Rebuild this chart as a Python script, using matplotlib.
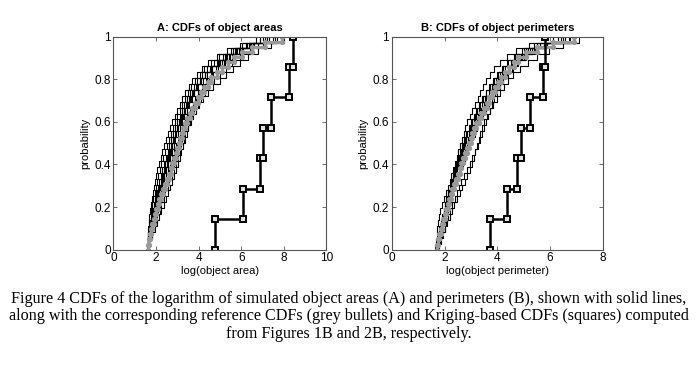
import numpy as np
import matplotlib
matplotlib.use("Agg")
import matplotlib.pyplot as plt

# ---- data ----
# Panel A: log(object area), simulated samples
sim_area = [
    [1.60, 1.60, 1.61, 1.63, 1.66, 1.69, 1.72, 1.76, 1.80, 1.85, 1.90, 1.95, 2.00, 2.05, 2.13, 2.21, 2.29, 2.38,
     2.47, 2.56, 2.66, 2.76, 2.87, 2.99, 3.11, 3.24, 3.38, 3.53, 3.70, 3.90, 4.15, 4.45, 4.85, 5.35, 5.95, 6.70],
    [1.60, 1.62, 1.63, 1.66, 1.68, 1.74, 1.77, 1.83, 1.87, 1.94, 1.99, 2.06, 2.11, 2.19, 2.25, 2.34, 2.41, 2.51,
     2.59, 2.69, 2.78, 2.88, 2.98, 3.10, 3.21, 3.36, 3.49, 3.66, 3.82, 4.04, 4.27, 4.60, 4.96, 5.50, 6.05, 6.90],
    [1.60, 1.60, 1.62, 1.68, 1.74, 1.80, 1.86, 1.92, 1.99, 2.06, 2.14, 2.22, 2.29, 2.36, 2.44, 2.52, 2.61, 2.70,
     2.79, 2.88, 2.98, 3.08, 3.19, 3.30, 3.42, 3.55, 3.70, 3.86, 4.05, 4.28, 4.55, 4.88, 5.30, 5.80, 6.40, 7.20],
    [1.61, 1.66, 1.72, 1.79, 1.86, 1.94, 2.02, 2.10, 2.19, 2.28, 2.36, 2.45, 2.54, 2.63, 2.72, 2.81, 2.90, 2.99,
     3.08, 3.17, 3.27, 3.38, 3.49, 3.60, 3.72, 3.85, 3.99, 4.15, 4.34, 4.56, 4.80, 5.10, 5.48, 5.95, 6.55, 7.50],
    [1.60, 1.63, 1.66, 1.71, 1.78, 1.83, 1.90, 1.96, 2.05, 2.11, 2.17, 2.27, 2.33, 2.40, 2.49, 2.55, 2.66, 2.74,
     2.81, 2.93, 3.00, 3.12, 3.20, 3.31, 3.46, 3.58, 3.72, 3.90, 4.08, 4.30, 4.62, 4.95, 5.35, 5.70, 6.20, 6.90],
    [1.62, 1.68, 1.75, 1.83, 1.91, 1.99, 2.08, 2.17, 2.26, 2.35, 2.44, 2.53, 2.62, 2.72, 2.82, 2.92, 3.02, 3.12,
     3.22, 3.32, 3.42, 3.53, 3.64, 3.75, 3.87, 4.00, 4.14, 4.30, 4.48, 4.68, 4.92, 5.22, 5.58, 6.02, 6.60, 7.70],
    [1.60, 1.61, 1.64, 1.67, 1.72, 1.77, 1.83, 1.89, 1.95, 2.02, 2.09, 2.16, 2.23, 2.30, 2.38, 2.46, 2.54, 2.63,
     2.72, 2.81, 2.90, 3.00, 3.10, 3.21, 3.33, 3.46, 3.60, 3.76, 3.94, 4.15, 4.40, 4.72, 5.12, 5.62, 6.25, 7.00],
    [1.60, 1.65, 1.69, 1.75, 1.81, 1.88, 1.93, 2.00, 2.09, 2.15, 2.24, 2.31, 2.39, 2.48, 2.55, 2.64, 2.73, 2.83,
     2.91, 3.01, 3.11, 3.20, 3.32, 3.43, 3.54, 3.68, 3.80, 3.97, 4.18, 4.38, 4.64, 4.98, 5.42, 5.88, 6.45, 7.30],
    [1.61, 1.64, 1.70, 1.77, 1.84, 1.90, 1.98, 2.06, 2.13, 2.21, 2.30, 2.38, 2.47, 2.56, 2.64, 2.74, 2.83, 2.93,
     3.03, 3.14, 3.25, 3.36, 3.47, 3.59, 3.72, 3.86, 4.02, 4.20, 4.40, 4.63, 4.90, 5.20, 5.60, 6.10, 6.80, 7.60],
    [1.60, 1.62, 1.67, 1.73, 1.79, 1.85, 1.91, 1.98, 2.04, 2.12, 2.19, 2.26, 2.35, 2.43, 2.51, 2.60, 2.68, 2.77,
     2.86, 2.95, 3.05, 3.15, 3.26, 3.38, 3.50, 3.62, 3.76, 3.92, 4.10, 4.32, 4.58, 4.90, 5.25, 5.75, 6.35, 7.10],
    [1.63, 1.69, 1.80, 1.87, 1.98, 2.05, 2.17, 2.25, 2.37, 2.44, 2.56, 2.63, 2.75, 2.83, 2.93, 3.01, 3.12, 3.19,
     3.30, 3.37, 3.48, 3.57, 3.70, 3.80, 3.95, 4.10, 4.30, 4.48, 4.72, 4.98, 5.28, 5.58, 5.95, 6.40, 7.00, 7.85],
    [1.62, 1.72, 1.82, 1.93, 2.03, 2.13, 2.24, 2.35, 2.45, 2.55, 2.65, 2.75, 2.85, 2.95, 3.03, 3.11, 3.19, 3.27,
     3.35, 3.43, 3.52, 3.62, 3.74, 3.87, 4.02, 4.20, 4.42, 4.68, 4.98, 5.30, 5.62, 5.95, 6.30, 6.80, 7.40, 8.00],
]
ref_area = [1.62, 1.67, 1.72, 1.77, 1.83, 1.88, 1.94, 2.00, 2.08, 2.16, 2.25, 2.34, 2.42, 2.51, 2.59, 2.68, 2.76,
            2.84, 2.92, 3.00, 3.07, 3.14, 3.21, 3.28, 3.35, 3.46, 3.58, 3.70, 3.83, 3.96, 4.10, 4.25, 4.42, 4.60,
            4.85, 5.10, 5.37, 5.65, 6.05, 6.50, 7.10, 7.90]
krig_area = [4.75, 6.09, 6.86, 7.02, 7.39, 8.25, 8.44]

# Panel B: log(object perimeter), simulated samples
sim_perim = [
    [1.64, 1.67, 1.70, 1.73, 1.76, 1.80, 1.84, 1.91, 1.98, 2.05, 2.12, 2.19, 2.26, 2.33, 2.40, 2.46, 2.52, 2.58,
     2.65, 2.72, 2.79, 2.86, 2.95, 3.04, 3.14, 3.25, 3.36, 3.47, 3.58, 3.72, 3.88, 4.10, 4.35, 4.70, 5.20, 6.10],
    [1.66, 1.72, 1.78, 1.83, 1.88, 1.93, 1.98, 2.03, 2.09, 2.15, 2.21, 2.28, 2.34, 2.41, 2.48, 2.55, 2.62, 2.70,
     2.78, 2.86, 2.95, 3.04, 3.14, 3.24, 3.35, 3.46, 3.58, 3.71, 3.86, 4.02, 4.20, 4.42, 4.68, 5.02, 5.50, 6.40],
    [1.74, 1.81, 1.88, 1.94, 2.00, 2.06, 2.12, 2.18, 2.25, 2.32, 2.39, 2.46, 2.54, 2.62, 2.70, 2.78, 2.87, 2.96,
     3.05, 3.14, 3.24, 3.34, 3.45, 3.56, 3.68, 3.80, 3.93, 4.07, 4.22, 4.39, 4.58, 4.80, 5.08, 5.42, 5.90, 6.90],
    [1.70, 1.75, 1.82, 1.86, 1.93, 1.97, 2.03, 2.07, 2.15, 2.19, 2.28, 2.33, 2.42, 2.47, 2.56, 2.61, 2.71, 2.77,
     2.88, 2.95, 3.06, 3.13, 3.26, 3.34, 3.49, 3.58, 3.75, 3.85, 4.04, 4.16, 4.40, 4.55, 4.90, 5.15, 5.75, 6.50],
    [1.68, 1.74, 1.80, 1.85, 1.90, 1.96, 2.01, 2.07, 2.13, 2.19, 2.26, 2.33, 2.40, 2.47, 2.54, 2.62, 2.70, 2.79,
     2.88, 2.97, 3.07, 3.17, 3.28, 3.39, 3.51, 3.63, 3.76, 3.90, 4.05, 4.22, 4.40, 4.62, 4.88, 5.25, 5.80, 6.70],
    [1.76, 1.84, 1.92, 2.00, 2.07, 2.14, 2.22, 2.30, 2.38, 2.46, 2.55, 2.64, 2.74, 2.84, 2.95, 3.06, 3.17, 3.28,
     3.36, 3.43, 3.50, 3.57, 3.64, 3.72, 3.80, 3.89, 3.99, 4.10, 4.23, 4.38, 4.55, 4.76, 5.02, 5.38, 5.90, 6.85],
    [1.69, 1.73, 1.79, 1.84, 1.89, 1.95, 2.00, 2.06, 2.11, 2.17, 2.24, 2.30, 2.37, 2.44, 2.51, 2.59, 2.66, 2.74,
     2.83, 2.91, 3.00, 3.10, 3.20, 3.31, 3.42, 3.54, 3.67, 3.81, 3.96, 4.12, 4.30, 4.50, 4.76, 5.10, 5.60, 6.55],
    [1.71, 1.78, 1.84, 1.90, 1.95, 2.01, 2.07, 2.13, 2.19, 2.25, 2.32, 2.39, 2.46, 2.53, 2.61, 2.69, 2.77, 2.85,
     2.94, 3.03, 3.12, 3.22, 3.32, 3.43, 3.55, 3.67, 3.80, 3.95, 4.10, 4.27, 4.46, 4.68, 4.95, 5.30, 5.78, 6.75],
    [1.67, 1.71, 1.77, 1.81, 1.87, 1.91, 1.97, 2.01, 2.07, 2.12, 2.19, 2.24, 2.31, 2.37, 2.45, 2.51, 2.59, 2.66,
     2.75, 2.82, 2.92, 3.00, 3.11, 3.20, 3.32, 3.43, 3.56, 3.69, 3.84, 4.00, 4.18, 4.38, 4.62, 4.95, 5.40, 6.30],
    [1.78, 1.87, 1.95, 2.03, 2.11, 2.19, 2.27, 2.37, 2.47, 2.57, 2.67, 2.77, 2.87, 2.97, 3.04, 3.10, 3.16, 3.22,
     3.29, 3.36, 3.43, 3.51, 3.61, 3.72, 3.84, 3.97, 4.10, 4.24, 4.40, 4.60, 4.85, 5.15, 5.50, 5.95, 6.50, 7.10],
]
ref_perim = [1.70, 1.75, 1.80, 1.85, 1.90, 1.95, 2.00, 2.06, 2.12, 2.18, 2.24, 2.30, 2.37, 2.43, 2.50, 2.57, 2.64,
             2.71, 2.78, 2.85, 2.92, 2.99, 3.06, 3.13, 3.20, 3.30, 3.40, 3.50, 3.60, 3.70, 3.81, 3.92, 4.03, 4.14,
             4.30, 4.45, 4.62, 4.80, 5.10, 5.50, 6.10, 6.90]
krig_perim = [3.72, 4.36, 4.73, 4.88, 5.24, 5.72, 5.80]

titles = ["A: CDFs of object areas", "B: CDFs of object perimeters"]
xlabels = ["log(object area)", "log(object perimeter)"]
xmax = [10, 8]

caption = ("Figure 4 CDFs of the logarithm of simulated object areas (A) and perimeters (B), shown with solid lines,\n"
           "along with the corresponding reference CDFs (grey bullets) and Kriging-based CDFs (squares) computed\n"
           "from Figures 1B and 2B, respectively.")


def stairs(vals):
    # empirical CDF as a staircase path through every corner
    x = np.sort(np.asarray(vals, dtype=float))
    n = len(x)
    xs = np.repeat(x, 2)
    ys = np.concatenate([[0.0], np.repeat(np.arange(1, n) / n, 2), [1.0]])
    return xs, ys


plt.rcParams['font.family'] = ['Liberation Sans', 'DejaVu Sans']
fig = plt.figure(figsize=(6.97, 3.66), dpi=100)

boxes = [[0.1628, 0.318, 0.3056, 0.582], [0.562, 0.318, 0.3030, 0.582]]
panels = [(sim_area, ref_area, krig_area), (sim_perim, ref_perim, krig_perim)]

for i, (sims, ref, krig) in enumerate(panels):
    ax = fig.add_axes(boxes[i])
    for s in sims:
        xs, ys = stairs(s)
        ax.plot(xs, ys, color='black', lw=0.8)
    xs, ys = stairs(ref)
    ax.plot(xs, ys, color='#999999', lw=2.2, marker='o', ms=2.8, mec='#999999')
    xs, ys = stairs(krig)
    ax.plot(xs, ys, color='black', lw=1.8, marker='s', ms=5, mfc='#e0e0e0', mec='black', mew=1.4)

    ax.set_xlim(0, xmax[i])
    ax.set_ylim(0, 1)
    ax.set_xticks(np.arange(0, xmax[i] + 1, 2))
    ax.set_yticks([0, 0.2, 0.4, 0.6, 0.8, 1])
    ax.set_yticklabels(['0', '0.2', '0.4', '0.6', '0.8', '1'])
    ax.tick_params(direction='in', length=3, width=0.6, color='#555555', labelsize=8.5,
                   top=True, right=True, pad=2)
    for sp in ax.spines.values():
        sp.set_color('#555555')
        sp.set_linewidth(0.8)
    ax.set_title(titles[i], fontsize=8, fontweight='bold', pad=4)
    ax.set_xlabel(xlabels[i], fontsize=8, labelpad=1)
    ax.set_ylabel('probability', fontsize=8, labelpad=3)

fig.text(0.5, 0.205, caption, ha='center', va='top', fontsize=11.6,
         family=['Liberation Serif', 'DejaVu Serif'], linespacing=1.12)

fig.savefig('out.png', dpi=100)
